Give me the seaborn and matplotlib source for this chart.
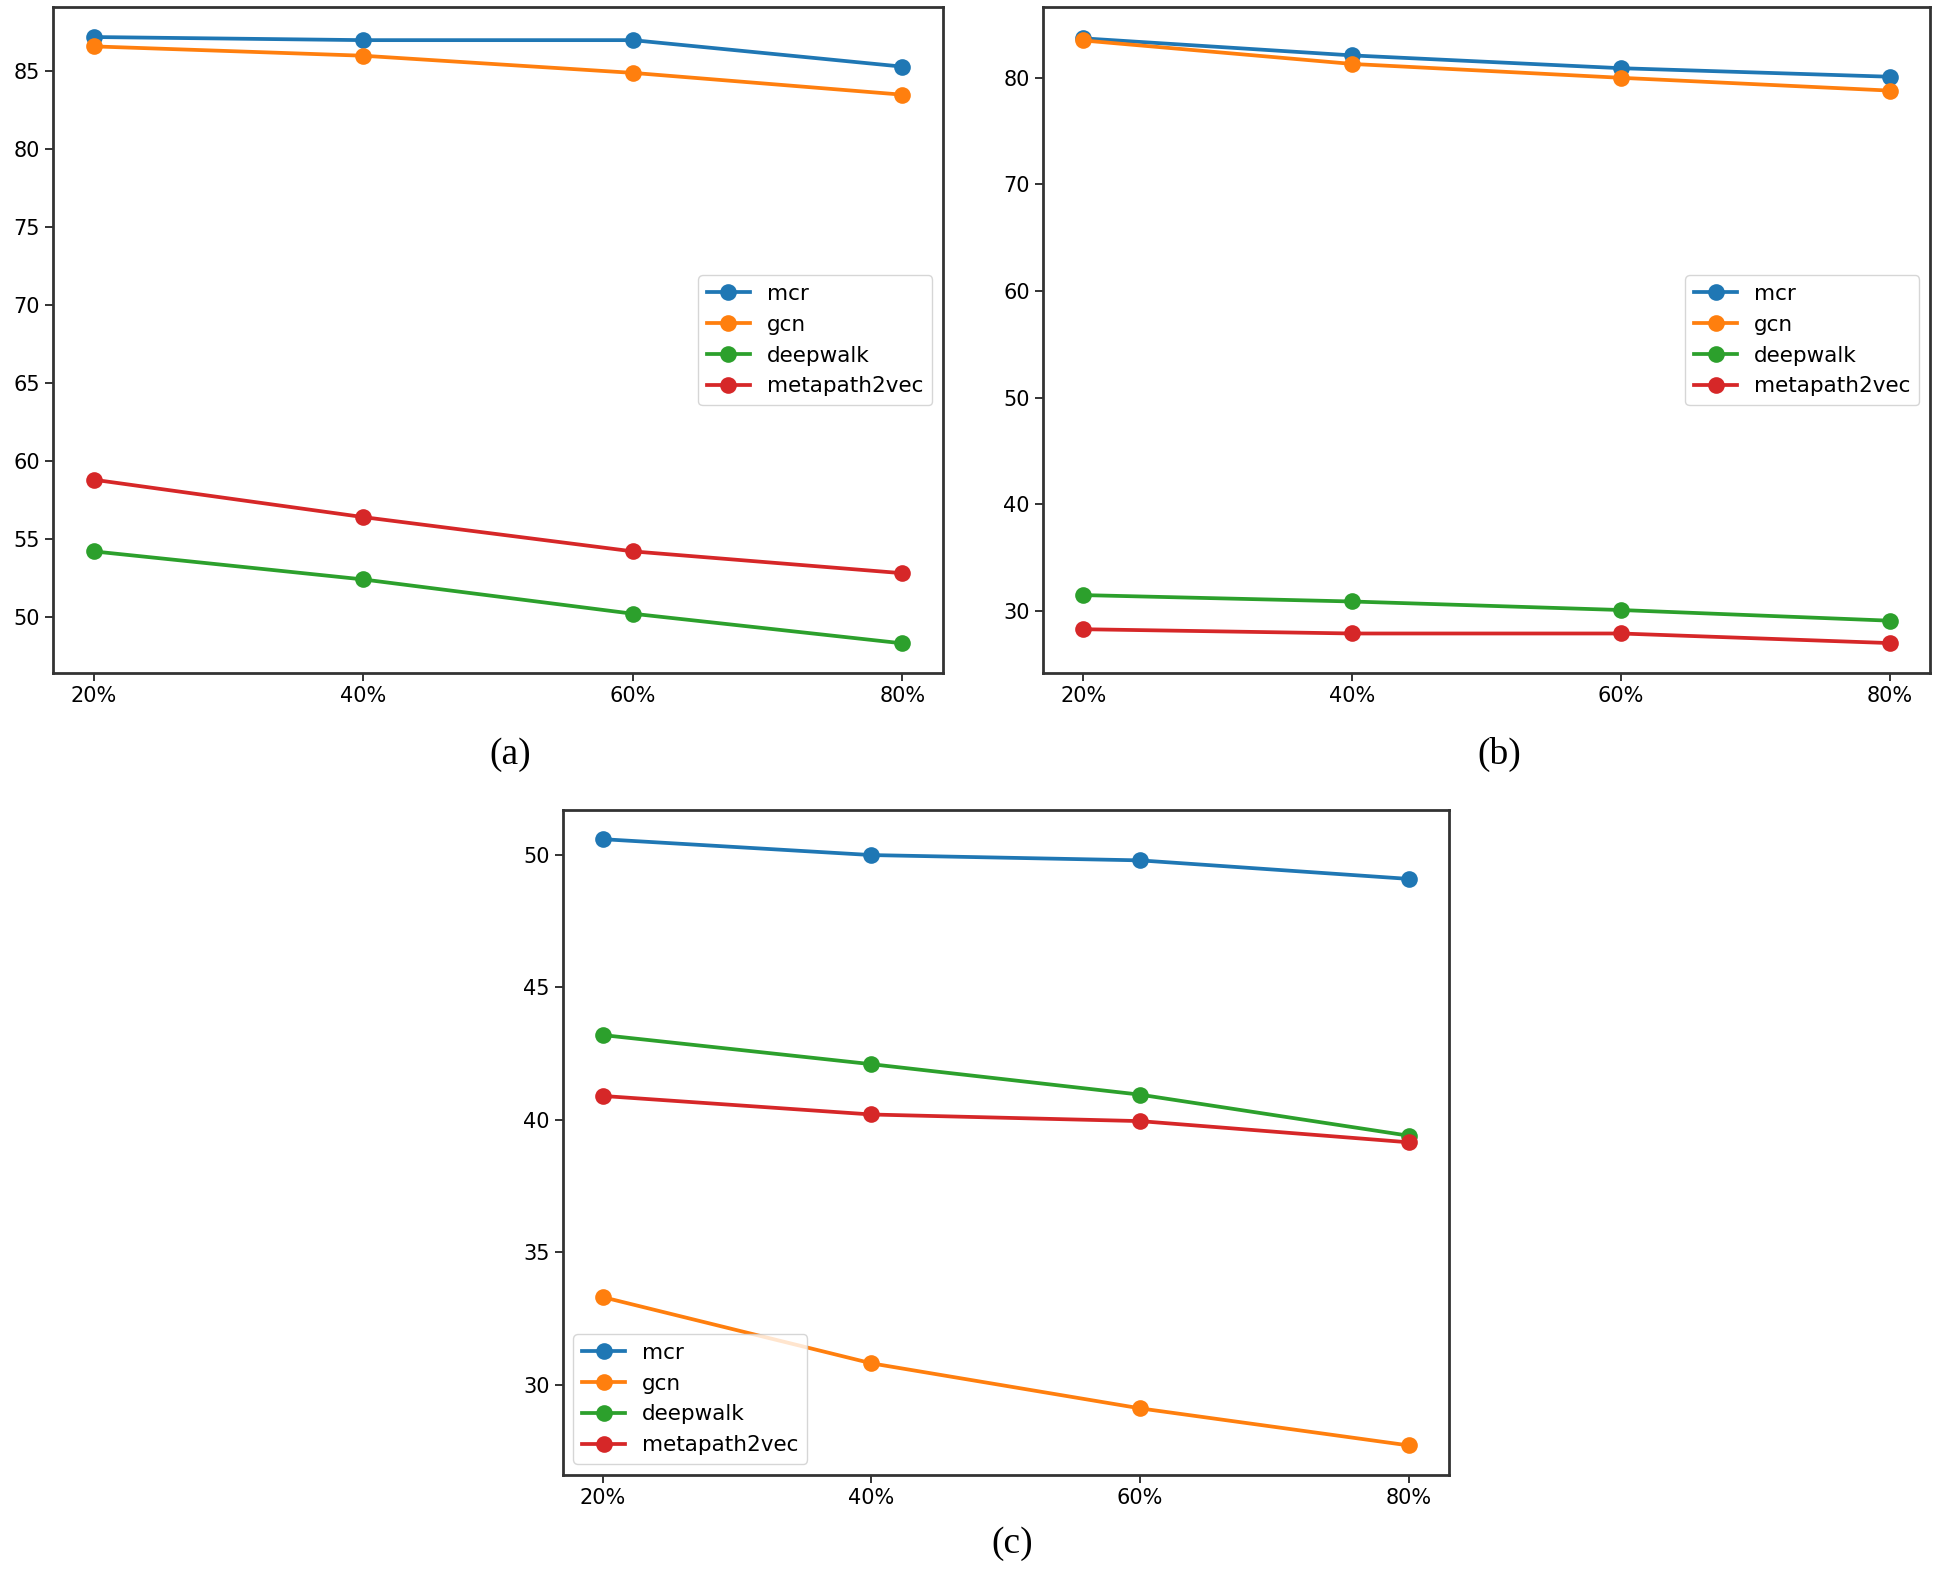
import matplotlib
matplotlib.use("Agg")
import matplotlib.pyplot as plt
import seaborn as sns
import pandas as pd

x_labels = ["20%", "40%", "60%", "80%"]
series_names = ["mcr", "gcn", "deepwalk", "metapath2vec"]

# panel (a)
a_mcr = [87.2, 87.0, 87.0, 85.3]
a_gcn = [86.6, 86.0, 84.9, 83.5]
a_deepwalk = [54.2, 52.4, 50.2, 48.3]
a_metapath2vec = [58.8, 56.4, 54.2, 52.8]

# panel (b)
b_mcr = [83.7, 82.1, 80.9, 80.1]
b_gcn = [83.5, 81.3, 80.0, 78.8]
b_deepwalk = [31.5, 30.9, 30.1, 29.1]
b_metapath2vec = [28.3, 27.9, 27.9, 27.0]

# panel (c)
c_mcr = [50.6, 50.0, 49.8, 49.1]
c_gcn = [33.3, 30.8, 29.1, 27.7]
c_deepwalk = [43.2, 42.1, 40.95, 39.4]
c_metapath2vec = [40.9, 40.2, 39.95, 39.15]

panel_labels = ["(a)", "(b)", "(c)"]

colors = sns.color_palette("tab10", 4)

plt.rcParams["font.family"] = ["DejaVu Sans"]

fig = plt.figure(figsize=(19.4, 15.76), dpi=100)

axes_rects = [
    [0.0274, 0.573, 0.486 - 0.0274, 0.9953 - 0.573],
    [0.5376, 0.573, 0.9949 - 0.5376, 0.9953 - 0.573],
    [0.290, 0.0644, 0.7468 - 0.290, 0.486 - 0.0644],
]
ylims = [(46.4, 89.1), (24.2, 86.6), (26.6, 51.7)]
yticks = [[50, 55, 60, 65, 70, 75, 80, 85], [30, 40, 50, 60, 70, 80], [30, 35, 40, 45, 50]]
legend_locs = ["center right", "center right", "lower left"]
label_pos = [(0.2628, 0.521), (0.773, 0.521), (0.522, 0.0204)]

panels = [
    [a_mcr, a_gcn, a_deepwalk, a_metapath2vec],
    [b_mcr, b_gcn, b_deepwalk, b_metapath2vec],
    [c_mcr, c_gcn, c_deepwalk, c_metapath2vec],
]

for i, (rect, vals) in enumerate(zip(axes_rects, panels)):
    ax = fig.add_axes(rect)
    for name, v, col in zip(series_names, vals, colors):
        df = pd.DataFrame({"x": x_labels, "y": v})
        sns.lineplot(data=df, x="x", y="y", ax=ax, color=col, marker="o",
                     markersize=12, markeredgewidth=0, linewidth=2.7,
                     label=name, sort=False)
    ax.set_ylim(*ylims[i])
    ax.set_yticks(yticks[i])
    ax.set_xlabel("")
    ax.set_ylabel("")
    ax.tick_params(labelsize=15, length=6, width=1.4, color="#333333")
    for sp in ax.spines.values():
        sp.set_color("#333333")
        sp.set_linewidth(2.0)
    leg = ax.legend(loc=legend_locs[i], fontsize=15.5, frameon=True)
    fig.text(label_pos[i][0], label_pos[i][1], panel_labels[i], ha="center", va="center",
             fontsize=27, family="Liberation Serif")

fig.savefig("out.png", dpi=100)
